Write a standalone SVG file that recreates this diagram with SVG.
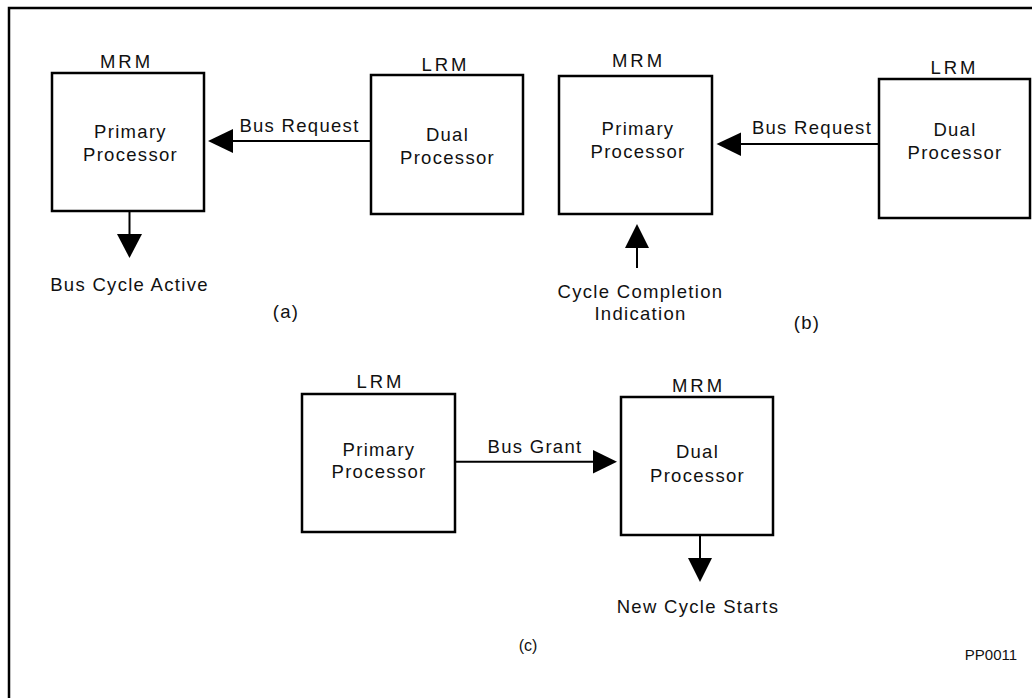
<svg xmlns="http://www.w3.org/2000/svg" width="1032" height="698" viewBox="0 0 1032 698">
<style>
text{font-family:"Liberation Sans",Arial,Helvetica,sans-serif;fill:#111;font-size:18.5px;letter-spacing:1.3px;text-anchor:middle}
.hd{letter-spacing:3px}
.box{fill:#fff;stroke:#000;stroke-width:2.5}
.ln{stroke:#000;stroke-width:2;fill:none}
.ah{fill:#000;stroke:none}
.frame{fill:none;stroke:#000;stroke-width:2.5}
</style>
<rect width="1032" height="698" fill="#fff"/>
<path class="frame" d="M9,700 V8 H1034"/>

<g id="a-primary">
<text class="hd" x="126.5" y="68">MRM</text>
<rect class="box" x="52" y="73" width="152" height="138"/>
<text x="130.5" y="138">Primary</text>
<text x="130.5" y="160.5">Processor</text>
</g>
<g id="a-dual">
<text class="hd" x="445.5" y="71">LRM</text>
<rect class="box" x="371" y="75" width="152" height="139"/>
<text x="447.5" y="141">Dual</text>
<text x="447.5" y="164">Processor</text>
</g>
<g id="b-primary">
<text class="hd" x="638.5" y="66.5">MRM</text>
<rect class="box" x="559" y="76" width="153" height="138"/>
<text x="638" y="135">Primary</text>
<text x="638" y="158.3">Processor</text>
</g>
<g id="b-dual">
<text class="hd" x="954.5" y="74">LRM</text>
<rect class="box" x="879" y="79" width="151" height="139"/>
<text x="955" y="135.7">Dual</text>
<text x="955" y="159">Processor</text>
</g>
<g id="c-primary">
<text class="hd" x="380.5" y="387.7">LRM</text>
<rect class="box" x="302" y="394" width="153" height="138"/>
<text x="379" y="456">Primary</text>
<text x="379" y="478.3">Processor</text>
</g>
<g id="c-dual">
<text class="hd" x="698.5" y="391.7">MRM</text>
<rect class="box" x="621" y="397" width="152" height="138"/>
<text x="697.5" y="458.3">Dual</text>
<text x="697.5" y="481.7">Processor</text>
</g>

<g id="connectors">
<line class="ln" x1="371" y1="141" x2="232" y2="141"/>
<polygon class="ah" points="208,141 233,129 233,153"/>
<text x="299.5" y="132">Bus Request</text>

<line class="ln" x1="129.5" y1="211" x2="129.5" y2="235"/>
<polygon class="ah" points="117,234 142,234 129.5,258"/>

<line class="ln" x1="879" y1="144" x2="740" y2="144"/>
<polygon class="ah" points="716.5,144 741,132.5 741,156"/>
<text x="812" y="134">Bus Request</text>

<line class="ln" x1="637" y1="268" x2="637" y2="247"/>
<polygon class="ah" points="625,248 649,248 637,224"/>

<line class="ln" x1="455" y1="461.7" x2="594" y2="461.7"/>
<polygon class="ah" points="593,450 593,473.5 617,461.7"/>
<text x="535" y="453.3">Bus Grant</text>

<line class="ln" x1="700" y1="535" x2="700" y2="559"/>
<polygon class="ah" points="688,558 712,558 700,582"/>
</g>

<g id="labels">
<text x="129.5" y="291">Bus Cycle Active</text>
<text x="286" y="318" letter-spacing="0.5">(a)</text>
<text x="640.5" y="298.3">Cycle Completion</text>
<text x="640.5" y="320">Indication</text>
<text x="807" y="329" letter-spacing="0.5">(b)</text>
<text x="698" y="613.3">New Cycle Starts</text>
<text x="528" y="651" style="font-size:16px;letter-spacing:0">(c)</text>
<text x="991" y="660" style="font-size:15px;letter-spacing:0">PP0011</text>
</g>
</svg>
